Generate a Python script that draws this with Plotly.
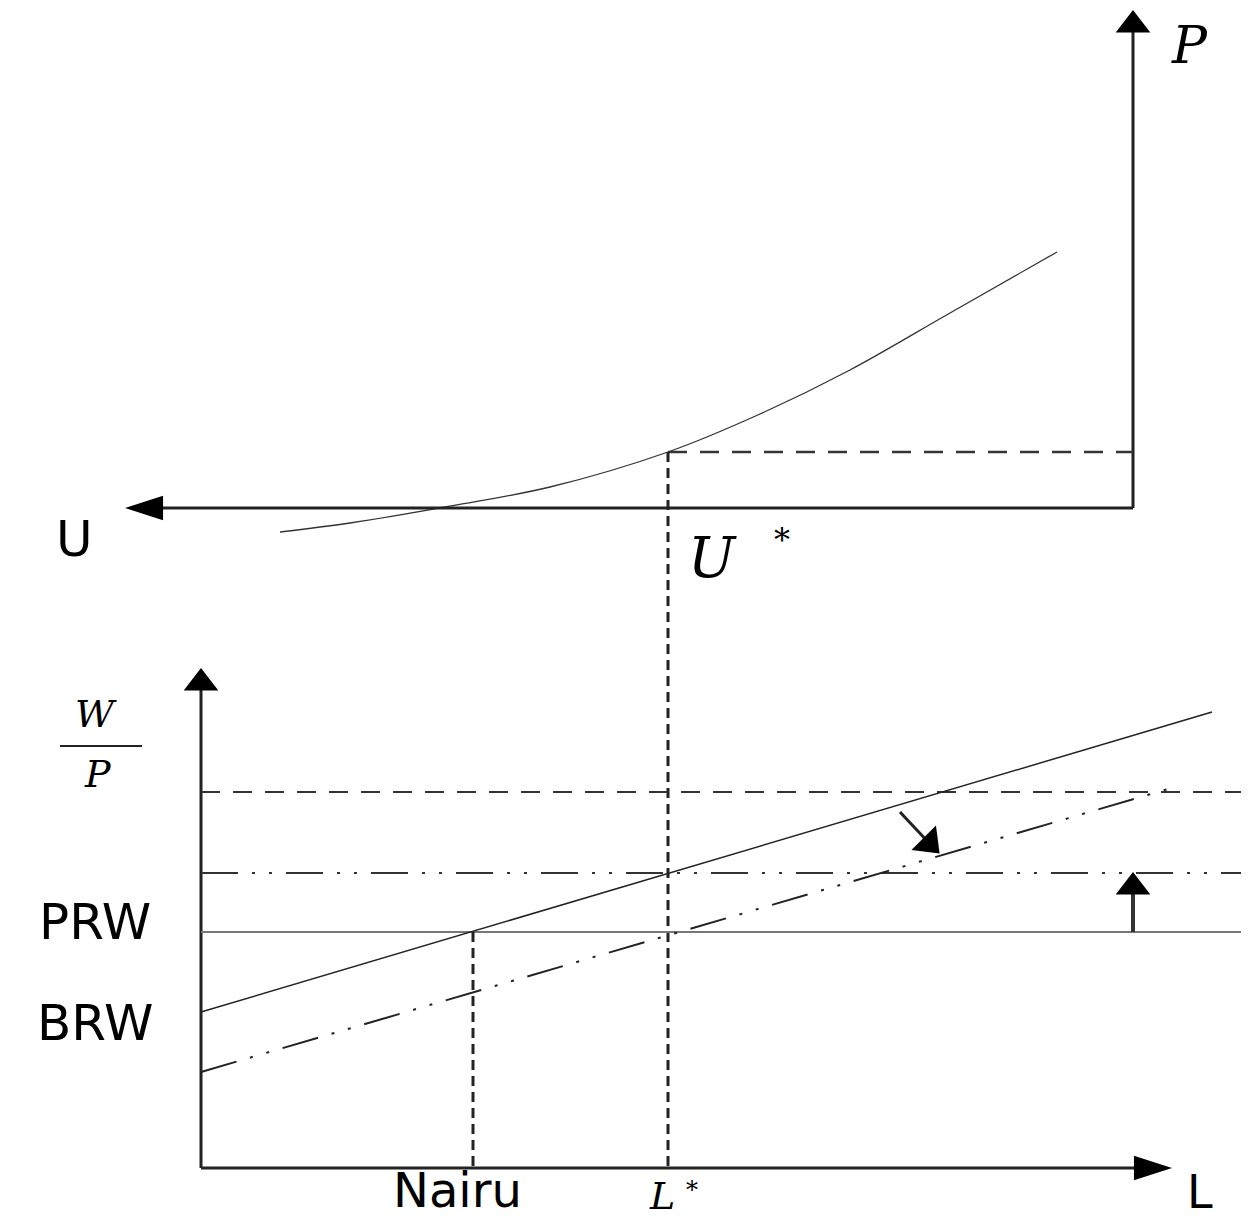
import plotly.graph_objects as go

# canvas is the picture itself: x to the right, y downwards (pixels)
W, H = 1249, 1228
PAD = 8  # the page body margin

# top panel: Phillips-type curve, U axis pointing left, P axis up
curve_x = [280, 350, 445, 550, 668, 760, 850, 950, 1057]
curve_y = [532, 523, 507, 487, 452, 414, 370, 313, 252]
p_axis_x = [1133, 1133]
p_axis_y = [508, 30]
u_axis_x = [1133, 150]
u_axis_y = [508, 508]
ustar_h_x = [668, 1133]
ustar_h_y = [452, 452]

# vertical dashed link from U* down to L*
link_x = [668, 668]
link_y = [452, 1168]

# bottom panel
wp_axis_x = [201, 201]
wp_axis_y = [1168, 688]
l_axis_x = [201, 1145]
l_axis_y = [1168, 1168]
top_dash_x = [201, 1249]
top_dash_y = [792, 792]
mid_dashdot_x = [201, 1249]
mid_dashdot_y = [873, 873]
prw_x = [201, 1249]
prw_y = [932, 932]
brw_x = [201, 1212]
brw_y = [1012, 712]
brw_new_x = [201, 1168]
brw_new_y = [1072, 789]
nairu_x = [473, 473]
nairu_y = [932, 1168]
shift_arrow_x = [900, 929]
shift_arrow_y = [812, 843]
up_arrow_x = [1133, 1133]
up_arrow_y = [932, 890]

# arrow heads pointing up/down (triangles) and sideways (narrow arrows)
tri_x = [1133, 201, 929, 1133]
tri_y = [25, 683, 843, 887]
tri_angle = [0, 0, 135, 0]
side_x = [125, 1172]
side_y = [508, 1168]
side_angle = [-90, 90]

fig = go.Figure()


def seg(x, y, width=2, color="#222", dash="solid", shape="linear"):
    fig.add_trace(go.Scatter(x=x, y=y, mode="lines",
                             line=dict(width=width, color=color, dash=dash, shape=shape),
                             hoverinfo="skip", showlegend=False))


seg(curve_x, curve_y, 1.3, "#333", shape="spline")
seg(p_axis_x, p_axis_y, 3, "#222")
seg(u_axis_x, u_axis_y, 3, "#222")
seg(ustar_h_x, ustar_h_y, 2.5, "#333", "19px,13px")
seg(link_x, link_y, 3, "#222", "10px,6px")

seg(wp_axis_x, wp_axis_y, 3, "#222")
seg(l_axis_x, l_axis_y, 3, "#222")
seg(top_dash_x, top_dash_y, 2.2, "#333", "19px,13px")
seg(mid_dashdot_x, mid_dashdot_y, 2.2, "#333", "37px,14px,3px,14px,3px,14px")
seg(prw_x, prw_y, 2, "#777")
seg(brw_x, brw_y, 1.5, "#222")
seg(brw_new_x, brw_new_y, 2, "#222", "37px,14px,3px,14px,3px,14px")
seg(nairu_x, nairu_y, 3, "#222", "10px,6px")
seg(shift_arrow_x, shift_arrow_y, 3, "#222")
seg(up_arrow_x, up_arrow_y, 4, "#333")

fig.add_trace(go.Scatter(x=tri_x, y=tri_y, mode="markers",
                         marker=dict(symbol="triangle-up", size=30, color="#000",
                                     angle=tri_angle, line=dict(width=0)),
                         hoverinfo="skip", showlegend=False))
fig.add_trace(go.Scatter(x=side_x, y=side_y, mode="markers",
                         marker=dict(symbol="arrow", size=40, color="#000",
                                     angle=side_angle, line=dict(width=0)),
                         hoverinfo="skip", showlegend=False))

# W/P fraction bar
seg([60, 142], [746, 746], 2, "#222")

sans = "DejaVu Sans, Liberation Sans, sans-serif"
serif = "DejaVu Serif, Liberation Serif, serif"
labels = [
    ("U", 74, 539, sans, 50, False),
    ("PRW", 95, 922, sans, 50, False),
    ("BRW", 95, 1023, sans, 50, False),
    ("Nairu", 457, 1190, sans, 48, False),
    ("L", 1200, 1192, sans, 46, False),
    ("P", 1189, 45, serif, 52, True),
    ("U", 712, 557, serif, 56, True),
    ("*", 782, 540, serif, 32, False),
    ("W", 96, 714, serif, 38, True),
    ("P", 98, 774, serif, 38, True),
    ("L", 662, 1196, serif, 38, True),
    ("*", 692, 1190, serif, 24, False),
]
for text, x, y, fam, size, ital in labels:
    fig.add_annotation(x=x, y=y, xref="x", yref="y", showarrow=False,
                       text="<i>%s</i>" % text if ital else text,
                       font=dict(family=fam, size=size, color="#000"))

fig.update_xaxes(range=[PAD, W - PAD], visible=False)
fig.update_yaxes(range=[H - PAD, PAD], visible=False)
fig.update_layout(width=W - 2 * PAD, height=H - 2 * PAD,
                  margin=dict(l=0, r=0, t=0, b=0),
                  plot_bgcolor="white", paper_bgcolor="white")

fig.write_html("out.html")
